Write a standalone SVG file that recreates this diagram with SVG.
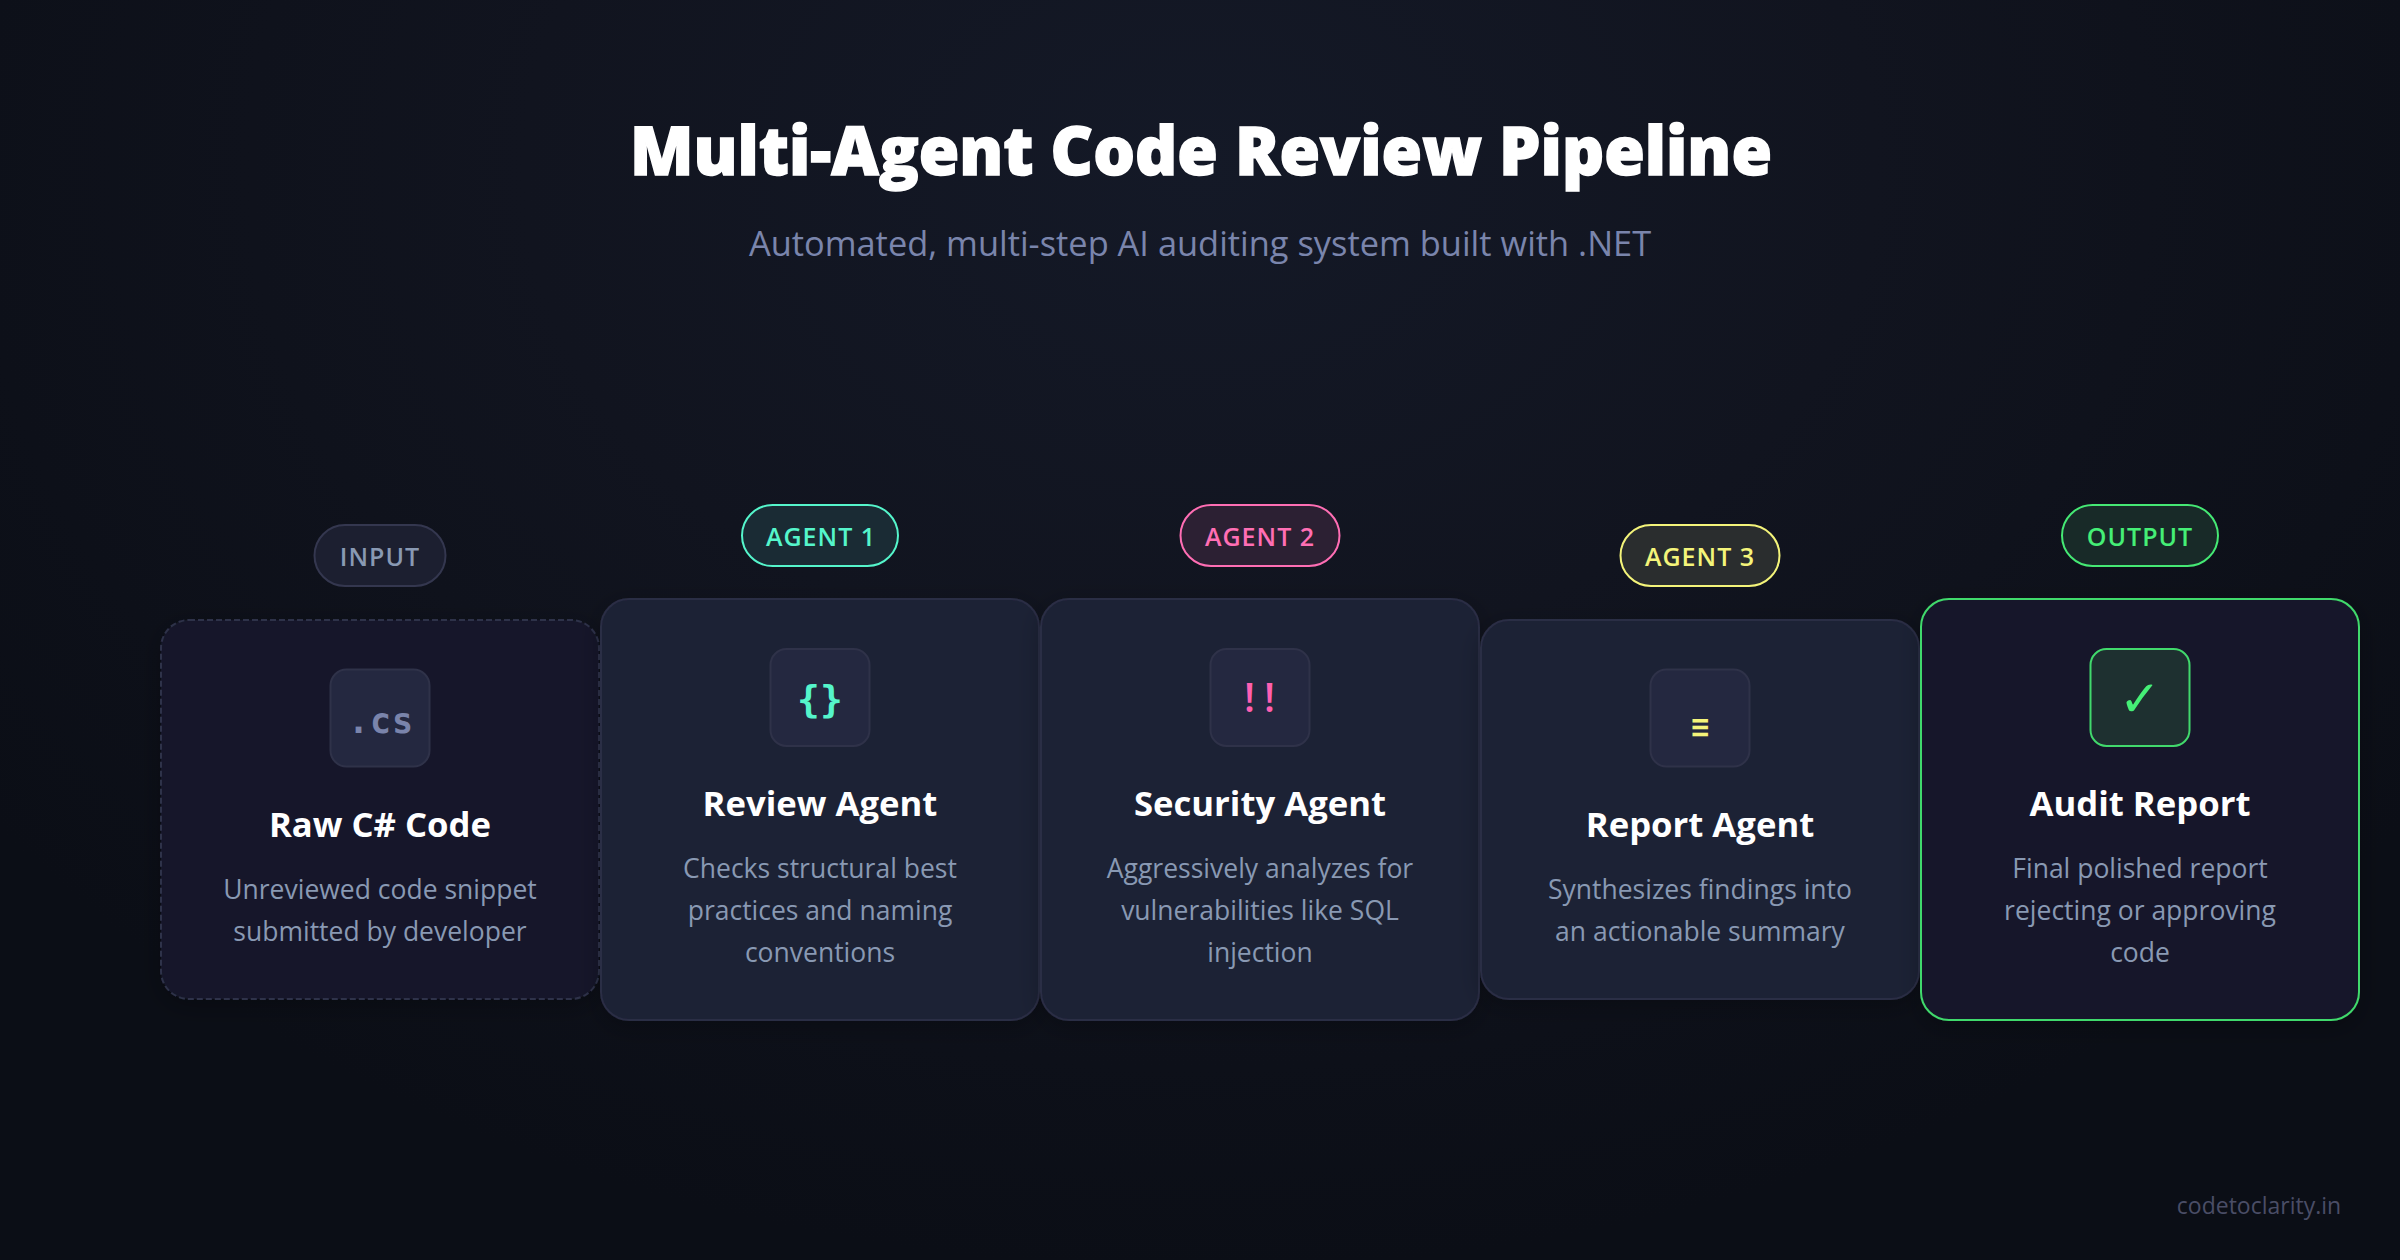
<svg xmlns="http://www.w3.org/2000/svg" width="2400" height="1260" viewBox="0 0 2400 1260">
<defs>
<radialGradient id="bg" gradientUnits="userSpaceOnUse" cx="0" cy="0" r="1" gradientTransform="translate(1200 170) scale(1500 1100)">
<stop offset="0" stop-color="#141927"/><stop offset="0.45" stop-color="#11141f"/><stop offset="1" stop-color="#0b0e16"/>
</radialGradient>
<filter id="sh" x="-15%" y="-15%" width="130%" height="130%"><feDropShadow dx="0" dy="6" stdDeviation="12" flood-color="#000" flood-opacity="0.25"/></filter>
</defs>
<style>
text{font-family:"Open Sans","Noto Sans","Liberation Sans",sans-serif;text-anchor:middle}
.title{font-size:68px;font-weight:800;fill:#fff;stroke:#fff;stroke-width:1.500px}
.sub{font-size:34.400px;fill:#7a85ac}
.card{fill:#1e2236;stroke:#2a2d44;stroke-width:2}
.plain{fill:#161929}
.dash{stroke:#2e3149;stroke-dasharray:6 3}
.ic{fill:#242840;stroke:#2f3249;stroke-width:2}
.name{font-size:34.700px;font-weight:700;fill:#fff}
.desc{font-size:26.500px;fill:#8999b3}
.pill{stroke-width:2}
.tag{font-size:25px;font-weight:600;letter-spacing:1px}
.mono{font-family:"DejaVu Sans Mono",monospace;font-weight:700}
.foot{font-size:23px;fill:#4a4d66}
</style>
<rect id="background" width="2400" height="1260" fill="url(#bg)"/>
<g id="header">
<text class="title" x="1201" y="175" textLength="1142" lengthAdjust="spacingAndGlyphs">Multi-Agent Code Review Pipeline</text>
<text class="sub" x="1200" y="256">Automated, multi-step AI auditing system built with .NET</text>
</g>
<g id="node-input">
<rect class="card plain dash" x="161" y="620" width="438" height="379" rx="28" filter="url(#sh)"/>
<rect class="pill" x="314.500" y="525" width="131" height="61" rx="30.500" fill="#1c1f30" stroke="#34374f"/>
<text class="tag" x="380" y="566" fill="#8999b3">INPUT</text>
<rect class="ic" x="330.500" y="669.500" width="99" height="97" rx="16"/>
<text class="mono" x="381" y="733" font-size="35" fill="#7a84ab" letter-spacing="1">.cs</text>
<text class="name" x="380" y="837">Raw C# Code</text>
<text class="desc" x="380" y="899">Unreviewed code snippet</text>
<text class="desc" x="380" y="941">submitted by developer</text>
</g>
<g id="node-review">
<rect class="card" x="601" y="599" width="438" height="421" rx="28" filter="url(#sh)"/>
<rect class="pill" x="742" y="505" width="156" height="61" rx="30.500" fill="#1a2b34" stroke="#55f5cb"/>
<text class="tag" x="821" y="546" fill="#55f5cb">AGENT 1</text>
<rect class="ic" x="770.500" y="649" width="99" height="97" rx="16"/>
<text class="mono" x="820" y="712" font-size="38" fill="#55f5cb">{}</text>
<text class="name" x="820" y="816">Review Agent</text>
<text class="desc" x="820" y="878">Checks structural best</text>
<text class="desc" x="820" y="920">practices and naming</text>
<text class="desc" x="820" y="962">conventions</text>
</g>
<g id="node-security">
<rect class="card" x="1041" y="599" width="438" height="421" rx="28" filter="url(#sh)"/>
<rect class="pill" x="1180.500" y="505" width="159" height="61" rx="30.500" fill="#2c2033" stroke="#ff6eb4"/>
<text class="tag" x="1260" y="546" fill="#ff6eb4">AGENT 2</text>
<rect class="ic" x="1210.500" y="649" width="99" height="97" rx="16"/>
<text x="1264" y="712" font-size="40" font-weight="600" fill="#ff5fb0" letter-spacing="9">!!</text>
<text class="name" x="1260" y="816">Security Agent</text>
<text class="desc" x="1260" y="878">Aggressively analyzes for</text>
<text class="desc" x="1260" y="920">vulnerabilities like SQL</text>
<text class="desc" x="1260" y="962">injection</text>
</g>
<g id="node-report">
<rect class="card" x="1481" y="620" width="438" height="379" rx="28" filter="url(#sh)"/>
<rect class="pill" x="1620.500" y="525" width="159" height="61" rx="30.500" fill="#2a2d2e" stroke="#f4f47a"/>
<text class="tag" x="1700" y="566" fill="#f4f47a">AGENT 3</text>
<rect class="ic" x="1650.500" y="669.500" width="99" height="97" rx="16"/>
<text class="mono" x="1700" y="737" font-size="30" fill="#f4f47a">≡</text>
<text class="name" x="1700" y="837">Report Agent</text>
<text class="desc" x="1700" y="899">Synthesizes findings into</text>
<text class="desc" x="1700" y="941">an actionable summary</text>
</g>
<g id="node-output">
<rect class="card plain" x="1921" y="599" width="438" height="421" rx="28" style="stroke:#41d96c" filter="url(#sh)"/>
<rect class="pill" x="2062" y="505" width="156" height="61" rx="30.500" fill="#182a28" stroke="#45e874"/>
<text class="tag" x="2140" y="546" fill="#45ef76">OUTPUT</text>
<rect class="ic" x="2090.500" y="649" width="99" height="97" rx="16" style="fill:#1e3030;stroke:#41d96c"/>
<text x="2140" y="716" font-size="50" font-weight="700" fill="#45ef76" style="font-family:'DejaVu Sans',sans-serif">✓</text>
<text class="name" x="2140" y="816">Audit Report</text>
<text class="desc" x="2140" y="878">Final polished report</text>
<text class="desc" x="2140" y="920">rejecting or approving</text>
<text class="desc" x="2140" y="962">code</text>
</g>
<text id="footer" class="foot" x="2259" y="1214">codetoclarity.in</text>
</svg>
